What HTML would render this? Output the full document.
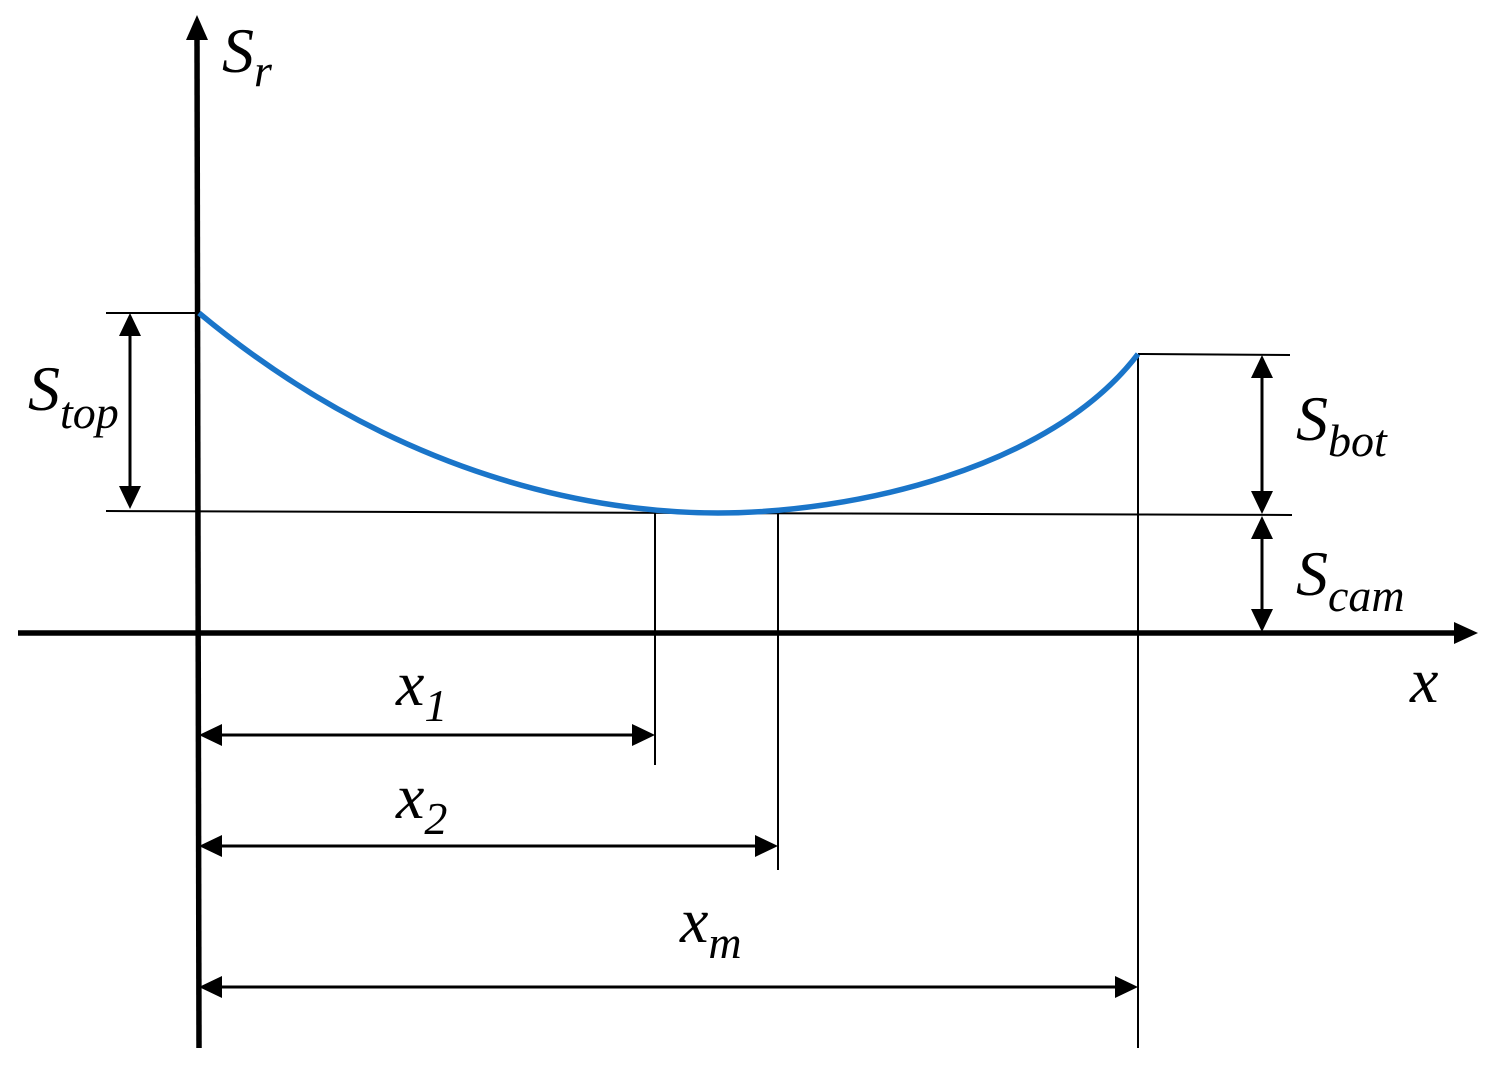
<!DOCTYPE html>
<html><head><style>body{margin:0;background:#fff}svg{display:block}svg text{font-family:"Liberation Serif","Times New Roman","DejaVu Serif",serif !important;font-style:italic;fill:#000}</style></head>
<body>
<svg width="1492" height="1078" viewBox="0 0 1492 1078" xmlns="http://www.w3.org/2000/svg">
<g stroke="#000" fill="none">
<line x1="197" y1="38" x2="199" y2="1048" stroke-width="5.5"/>
<line x1="18" y1="633" x2="1458" y2="633" stroke-width="5.5"/>
<line x1="106" y1="313" x2="199" y2="313" stroke-width="2"/>
<line x1="106" y1="511" x2="1292" y2="515" stroke-width="2"/>
<line x1="1138" y1="354" x2="1290" y2="355" stroke-width="2"/>
<line x1="655" y1="511" x2="655" y2="765" stroke-width="2"/>
<line x1="778" y1="511" x2="778" y2="870" stroke-width="2"/>
<line x1="1138" y1="354" x2="1138" y2="1048" stroke-width="2"/>
<line x1="130" y1="330" x2="130" y2="490" stroke-width="3"/>
<line x1="1262" y1="372" x2="1262" y2="496" stroke-width="3"/>
<line x1="1262" y1="534" x2="1262" y2="615" stroke-width="3"/>
<line x1="215" y1="735" x2="638" y2="735" stroke-width="3"/>
<line x1="215" y1="846" x2="760" y2="846" stroke-width="3"/>
<line x1="215" y1="987" x2="1120" y2="987" stroke-width="3"/>
</g>
<g fill="#000">
<polygon points="197,15 186,40 208,40"/>
<polygon points="1478,633 1454,622 1454,644"/>
<polygon points="130,313 119,336 141,336"/>
<polygon points="130,509 119,486 141,486"/>
<polygon points="1262,355 1251,378 1273,378"/>
<polygon points="1262,514 1251,491 1273,491"/>
<polygon points="1262,516 1251,539 1273,539"/>
<polygon points="1262,632 1251,609 1273,609"/>
<polygon points="199,735 222,724 222,746"/>
<polygon points="655,735 632,724 632,746"/>
<polygon points="199,846 222,835 222,857"/>
<polygon points="778,846 755,835 755,857"/>
<polygon points="199,987 222,976 222,998"/>
<polygon points="1138,987 1115,976 1115,998"/>
</g>
<path d="M199,313 C400,480 600,513 718,513 C850,513 1050,470 1138,354" stroke="#1a75c9" stroke-width="5.5" fill="none"/>
<g font-family="Liberation Serif, serif" font-style="italic">
<text x="222" y="72" font-size="64">S<tspan font-size="46" dy="14">r</tspan></text>
<text x="28" y="410" font-size="64">S<tspan font-size="46" dy="18">top</tspan></text>
<text x="1296" y="440" font-size="64">S<tspan font-size="46" dy="16">bot</tspan></text>
<text x="1296" y="595" font-size="64">S<tspan font-size="46" dy="16">cam</tspan></text>
<text x="1410" y="702" font-size="64">x</text>
<text x="396" y="705" font-size="64">x<tspan font-size="46" dy="16">1</tspan></text>
<text x="396" y="818" font-size="64">x<tspan font-size="46" dy="16">2</tspan></text>
<text x="680" y="942" font-size="64">x<tspan font-size="46" dy="16">m</tspan></text>
</g>
</svg>
</body></html>
